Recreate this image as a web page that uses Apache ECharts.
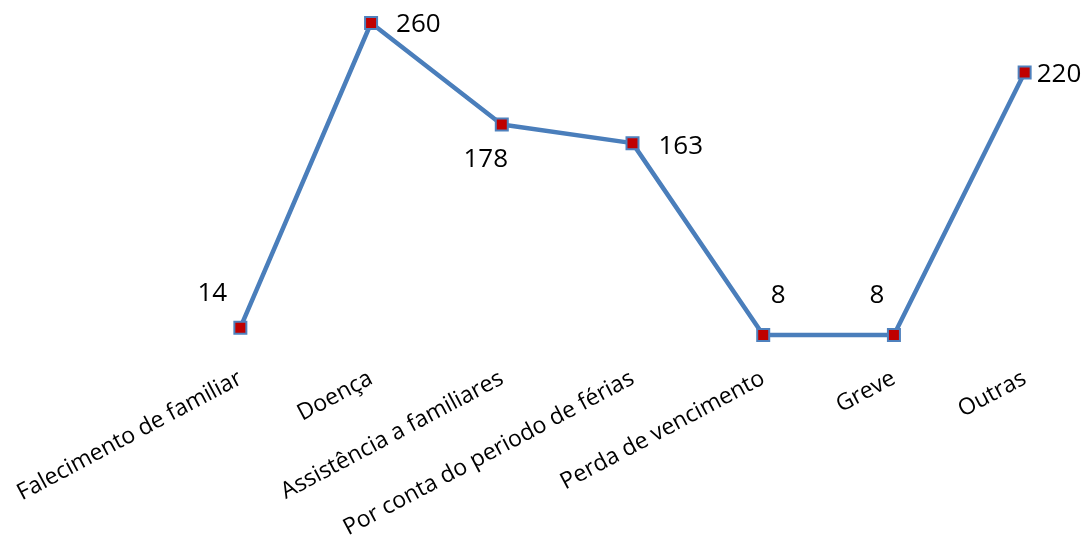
<!DOCTYPE html>
<html>
<head>
<meta charset="utf-8">
<script src="https://cdn.jsdelivr.net/npm/echarts@6/dist/echarts.min.js"></script>
<style>
  html, body { margin: 0; padding: 0; background: #fff; }
  #chart { width: 1086px; height: 537px; }
</style>
</head>
<body>
<div id="chart"></div>
<script>
// Motivos de ausência
const categories = [
  'Falecimento de familiar',
  'Doença',
  'Assistência a familiares',
  'Por conta do periodo de férias',
  'Perda de vencimento',
  'Greve',
  'Outras'
];
const values = [14, 260, 178, 163, 8, 8, 220];

// per-point label placement
const labelPlacement = [
  { position: 'top', offset: [-28, -9] },
  { position: 'right', offset: [13, 2] },
  { position: 'bottom', offset: [-16, 10] },
  { position: 'right', offset: [14, 3] },
  { position: 'top', offset: [15, -14] },
  { position: 'top', offset: [-17, -14] },
  { position: 'right', offset: [0, 2] }
];

const chart = echarts.init(document.getElementById('chart'));
const font = "'Open Sans', 'Noto Sans', sans-serif";

chart.setOption({
  animation: false,
  grid: { left: 175, width: 915, top: 23, height: 322, outerBoundsMode: 'none' },
  xAxis: {
    type: 'category',
    data: categories,
    boundaryGap: true,
    axisLine: { show: false },
    axisTick: { show: false },
    axisLabel: {
      rotate: 28,
      interval: 0,
      margin: 32,
      fontFamily: font,
      fontSize: 23,
      color: '#000'
    }
  },
  yAxis: {
    type: 'value',
    min: 0,
    max: 260,
    show: false,
    splitLine: { show: false }
  },
  series: [{
    type: 'line',
    data: values.map((v, i) => ({
      value: v,
      label: labelPlacement[i]
    })),
    symbol: 'rect',
    symbolSize: 12,
    lineStyle: { color: '#4A7EBB', width: 4.5 },
    itemStyle: { color: '#C00000', borderColor: '#4F81BD', borderWidth: 2 },
    label: {
      show: true,
      fontFamily: font,
      fontSize: 26,
      color: '#000'
    }
  }]
});
</script>
</body>
</html>
